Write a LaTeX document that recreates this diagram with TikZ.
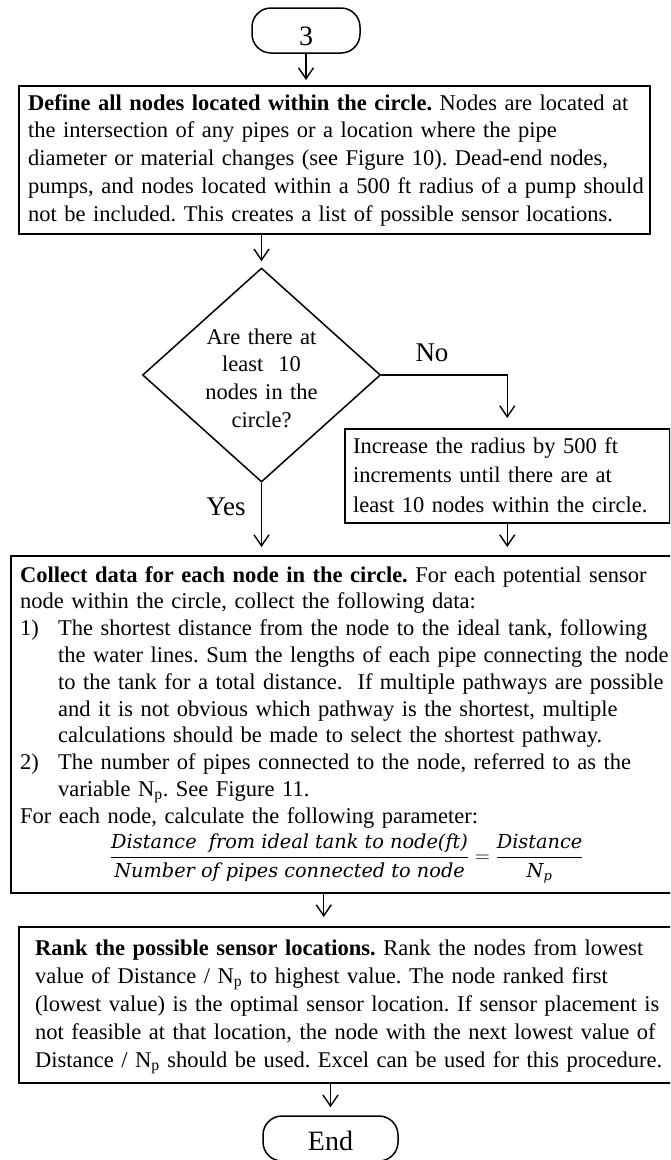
\documentclass[tikz,border=0pt]{standalone}
\usepackage{fontspec}
\setmainfont{Liberation Serif}
\newfontfamily\formulafont{DejaVu Serif}
\usetikzlibrary{shapes.geometric,arrows.meta}
\frenchspacing
\begin{document}
\begin{tikzpicture}[x=1pt,y=-1pt,
  box/.style={draw,line width=1.5pt,rectangle,inner sep=0pt,anchor=north west},
  term/.style={draw,line width=1.5pt,rectangle,rounded corners=19pt,inner sep=0pt,
    minimum width=108pt,minimum height=45pt,font=\fontsize{28}{30}\selectfont},
  decision/.style={draw,line width=1.5pt,diamond,inner sep=0pt,
    minimum width=238pt,minimum height=214pt},
  body/.style={anchor=base west,inner sep=0pt,align=left,text width=660pt},
  answer/.style={inner sep=0pt,font=\fontsize{27}{30}\selectfont},
  arr/.style={line width=1.4pt,-{Straight Barb[length=11pt,width=15pt]}},
]
\useasboundingbox (0,0) rectangle (670,1160);
\clip (0,0) rectangle (670,1160);

% start terminal
\node[term,text height=29pt,text depth=0pt] (start) at (306,30.5) {3};

% step: define the nodes
\node[box,minimum width=631pt,minimum height=148pt] (define) at (18,85) {};
\node[body,font=\fontsize{22.5}{27.9}\selectfont] (definetxt) at (28,110)
  {\textbf{Define all nodes located within the circle.}\ Nodes are located at\\
   the intersection of any pipes or a location where the pipe\\
   diameter or material changes (see Figure 10). Dead-end nodes,\\
   pumps, and nodes located within a 500 ft radius of a pump should\\
   not be included. This creates a list of possible sensor locations.};

% decision
\node[decision] (dec) at (261.5,375) {};
\node[anchor=base,inner sep=0pt,align=center,text width=150pt,
      font=\fontsize{22.5}{27.7}\selectfont] (dectxt) at (261.5,344)
  {Are there at\\ least\ \ 10\\ nodes in the\\ circle?};
\node[answer] (no) at (432,353) {No};
\node[answer] (yes) at (226,507) {Yes};

% step: widen the circle
\node[box,minimum width=325pt,minimum height=94pt] (incr) at (344,428) {};
\node[body,font=\fontsize{22.5}{29.5}\selectfont] (incrtxt) at (353,453)
  {Increase the radius by 500 ft\\
   increments until there are at\\
   least 10 nodes within the circle.};

% step: collect data
\node[box,minimum width=670pt,minimum height=337pt] (collect) at (10,555) {};
\node[body,font=\fontsize{22.5}{26.8}\selectfont] (collecttxt) at (20,582)
  {\textbf{Collect data for each node in the circle.} For each potential sensor\\
   node within the circle, collect the following data:\\
   \makebox[38pt][l]{1)}The shortest distance from the node to the ideal tank, following\\
   \hspace*{38pt}the water lines. Sum the lengths of each pipe connecting the node\\
   \hspace*{38pt}to the tank for a total distance.\ \ If multiple pathways are possible\\
   \hspace*{38pt}and it is not obvious which pathway is the shortest, multiple\\
   \hspace*{38pt}calculations should be made to select the shortest pathway.\\
   \makebox[38pt][l]{2)}The number of pipes connected to the node, referred to as the\\
   \hspace*{38pt}variable N\textsubscript{p}. See Figure 11.\\
   For each node, calculate the following parameter:};
\node[anchor=base west,inner sep=0pt,font=\fontsize{19.3}{22}\selectfont] (ratio) at (109.8,862.8)
  {$\displaystyle
    \frac{\hbox{\formulafont\itshape Distance\ \ from ideal tank to node(ft)}}
         {\hbox{\formulafont\itshape Number of pipes connected to node}}
    = \frac{\hbox{\formulafont\itshape Distance}}
           {\hbox{\formulafont\itshape N}_{\hbox{\formulafont\itshape\fontsize{13}{13}\selectfont p}}}$};

% step: rank the locations
\node[box,minimum width=660pt,minimum height=156pt] (rank) at (18,926) {};
\node[body,font=\fontsize{22.5}{28}\selectfont] (ranktxt) at (35,955)
  {\textbf{Rank the possible sensor locations.} Rank the nodes from lowest\\
   value of Distance / N\textsubscript{p} to highest value. The node ranked first\\
   (lowest value) is the optimal sensor location. If sensor placement is\\
   not feasible at that location, the node with the next lowest value of\\
   Distance / N\textsubscript{p} should be used. Excel can be used for this procedure.};

% end terminal
\node[term,minimum width=135pt,text height=23pt,text depth=0pt] (endt) at (330.5,1138.5) {End};

% connectors
\draw[arr,shorten >=5pt] (start.south) -- (start.south |- define.north);
\draw[arr,shorten >=6pt] (define.south -| dec.north) -- (dec.north);
\draw[arr,shorten >=8pt] (dec.south) -- (dec.south |- collect.north);
\draw[arr,shorten >=10pt] (dec.east) -| (incr.north);
\draw[arr,shorten >=8pt] (incr.south) -- (incr.south |- collect.north);
\draw[arr,shorten >=9pt] ([xshift=-22pt]collect.south) -- ([xshift=-22pt]collect.south |- rank.north);
\draw[arr,shorten >=8pt] (rank.south -| endt.north) -- (endt.north);
\end{tikzpicture}
\end{document}
